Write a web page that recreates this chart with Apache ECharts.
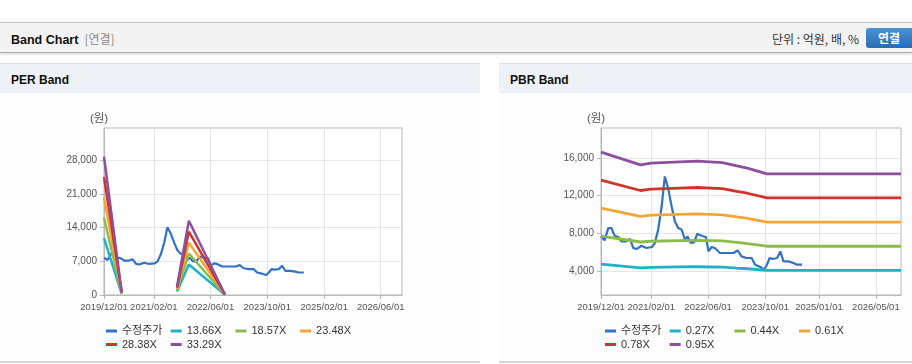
<!DOCTYPE html>
<html><head><meta charset="utf-8">
<script src="https://cdn.jsdelivr.net/npm/echarts@6/dist/echarts.min.js"></script>
<style>
html,body{margin:0;padding:0;width:912px;height:364px;overflow:hidden;background:#fff;font-family:"Liberation Sans","Noto Sans CJK KR",sans-serif;}
#hdr{position:absolute;left:0;top:22px;width:912px;height:29px;background:#f3f3f3;border-top:1px solid #c4c4c4;border-bottom:1px solid #b0b0b0;box-shadow:0 1px 3px rgba(0,0,0,0.18);}
#hdr .t{position:absolute;left:11px;top:0;line-height:31px;font-weight:bold;font-size:12.5px;color:#111;}
#hdr .s{color:#8a8a8a;font-weight:normal;margin-left:6px;font-size:12px;font-family:"Noto Sans CJK KR",sans-serif;}
#hdr .u{position:absolute;right:53px;top:0;line-height:31px;font-size:12px;color:#333;font-family:"Noto Sans CJK KR",sans-serif;}
#hdr .btn{position:absolute;left:866px;top:5px;width:48px;height:20px;border-radius:3px;background:linear-gradient(#4b91d2,#2a6cb2);color:#fff;font-weight:bold;font-size:12px;line-height:20px;text-align:center;font-family:"Noto Sans CJK KR",sans-serif;padding-right:2px;box-sizing:border-box;}
.ph{position:absolute;top:63px;height:29px;background:#eef1f6;border-top:1px solid #dde0e5;}
.ph span{position:absolute;left:11px;top:0;line-height:33px;font-weight:bold;font-size:12px;color:#111;}
.pb{position:absolute;top:93px;height:268px;background:#fdfdfd;border-bottom:2px solid #d6d6d6;}
#chart{position:absolute;left:0;top:0;width:912px;height:364px;}
</style></head>
<body>
<div id="hdr"><div class="t">Band Chart<span class="s">[연결]</span></div><div class="u">단위 : 억원, 배, %</div><div class="btn">연결</div></div>
<div class="ph" style="left:0;width:480px"><span>PER Band</span></div>
<div class="pb" style="left:0;width:480px"></div>
<div class="ph" style="left:499px;width:413px"><span>PBR Band</span></div>
<div class="pb" style="left:499px;width:413px"></div>
<div id="chart"></div>
<script>
// ---- data ----
const seriesNames = ['수정주가'];
const perBandNames = ['13.66X', '18.57X', '23.48X', '28.38X', '33.29X'];
const pbrBandNames = ['0.27X', '0.44X', '0.61X', '0.78X', '0.95X'];

const priceDates = ['2019/12/01','2020/01/01','2020/02/01','2020/02/28','2020/03/25','2020/04/25','2020/05/22','2020/07/04','2020/08/04','2020/09/01','2020/09/28','2020/11/10','2020/12/22','2021/02/07','2021/03/04','2021/04/01','2021/05/01','2021/05/28','2021/06/25','2021/07/25','2021/08/22','2021/09/19','2021/10/19','2021/11/16','2021/12/07','2022/01/04','2022/02/01','2022/03/01','2022/04/07','2022/05/13','2022/06/04','2022/07/01','2022/07/28','2022/09/10','2022/11/07','2023/01/04','2023/02/07','2023/03/13','2023/04/25','2023/06/07','2023/07/07','2023/08/19','2023/09/22','2023/10/16','2023/11/07','2023/12/04','2024/01/10','2024/02/07','2024/03/04','2024/04/16','2024/05/28','2024/06/28','2024/08/10'];
const priceValues = [7700,7250,8560,8560,7750,7610,7140,7140,7400,6440,6330,6680,6440,6550,6970,8380,10850,14040,12800,10850,9260,8560,8380,7320,7670,6970,7040,7960,7750,7600,6080,6550,6440,5910,5910,5910,6190,5550,5380,5380,4670,4420,4140,4670,5380,5270,5380,6080,5020,5020,4850,4670,4670];

const perBandDates = ['2019/12/01','2020/05/01','2021/01/01','2021/08/19','2021/11/28','2022/10/04'];
const per1366 = [11780, 250, null, 740, 6320, 40];
const per1857 = [16010, 340, null, 1000, 8600, 60];
const per2348 = [20240, 420, null, 1270, 10870, 70];
const per2838 = [24470, 510, null, 1530, 13140, 90];
const per3329 = [28700, 600, null, 1800, 15410, 100];

const pbrBandDates = ['2019/12/01','2020/11/01','2021/02/01','2021/10/01','2022/03/01','2022/10/01','2023/02/01','2023/05/01','2023/10/15','2026/12/01'];
const pbr027 = [4730, 4340, 4390, 4430, 4450, 4410, 4310, 4240, 4070, 4070];
const pbr044 = [7700, 7080, 7160, 7230, 7260, 7190, 7030, 6910, 6630, 6630];
const pbr061 = [10680, 9810, 9930, 10020, 10060, 9970, 9740, 9590, 9190, 9190];
const pbr078 = [13650, 12550, 12690, 12810, 12870, 12740, 12460, 12260, 11760, 11760];
const pbr095 = [16630, 15280, 15460, 15600, 15670, 15520, 15170, 14930, 14320, 14320];

const perXTicks = ['2019/12/01','2021/02/01','2022/06/01','2023/10/01','2025/02/01','2026/06/01'];
const pbrXTicks = ['2019/12/01','2021/02/01','2022/06/01','2023/10/01','2025/01/01','2026/05/01'];
const perYTicks = [0, 7000, 14000, 21000, 28000];
const pbrYTicks = [4000, 8000, 12000, 16000];
const xStart = '2019/12/01', xEnd = '2026/12/01';

// ---- styling ----
const colors = ['#3172c6', '#1fb2c6', '#8cbb4c', '#f3a634', '#d0332c', '#8e4f9c'];
const FONT = '"Liberation Sans","Noto Sans CJK KR",sans-serif';
const axisColor = '#b8b8b8';

function ts(s) { const p = s.split('/').map(Number); return new Date(p[0], p[1] - 1, p[2]).getTime(); }
function pairs(d, v) { return d.map((x, i) => [ts(x), v[i] == null ? '-' : v[i]]); }
function fmtDate(t) {
  const d = new Date(t);
  const p = n => (n < 10 ? '0' : '') + n;
  return d.getFullYear() + '/' + p(d.getMonth() + 1) + '/' + p(d.getDate());
}

const grids = [
  { left: 104, top: 128, width: 298, height: 167 },
  { left: 601, top: 128, width: 300, height: 167 }
];

function xAxisOf(idx, ticks) {
  const tv = ticks.map(ts);
  return {
    type: 'value', gridIndex: idx, min: ts(xStart), max: ts(xEnd),
    axisLine: { show: true, lineStyle: { color: axisColor } },
    axisTick: { show: true, length: 4, customValues: tv, lineStyle: { color: axisColor } },
    axisLabel: { customValues: tv, formatter: v => fmtDate(v), color: '#555', fontSize: 9.5, fontFamily: FONT, margin: 8 },
    splitLine: { show: true, lineStyle: { color: '#e6e6e6' } }
  };
}
function yAxisOf(idx, min, max, ticks) {
  return {
    type: 'value', gridIndex: idx, min: min, max: max,
    name: '(원)', nameLocation: 'end', nameGap: 9,
    nameTextStyle: { color: '#555', fontSize: 11.5, fontFamily: FONT, align: 'center', verticalAlign: 'middle', padding: [0, 10, 0, 0] },
    axisLine: { show: true, lineStyle: { color: axisColor } },
    axisTick: { show: true, length: 4, customValues: ticks, lineStyle: { color: axisColor } },
    axisLabel: { customValues: ticks, formatter: v => v.toLocaleString('en-US'), color: '#555', fontSize: 10, fontFamily: FONT, margin: 7 },
    splitLine: { show: true, lineStyle: { color: '#e6e6e6' } }
  };
}

function lineSeries(name, data, color, ax, width) {
  return {
    name: name, type: 'line', xAxisIndex: ax, yAxisIndex: ax, data: data,
    showSymbol: false, symbol: 'none', connectNulls: false,
    itemStyle: { color: color }, lineStyle: { color: color, width: width },
    emphasis: { disabled: true }
  };
}

const perSeriesData = [per1366, per1857, per2348, per2838, per3329];
const pbrSeriesData = [pbr027, pbr044, pbr061, pbr078, pbr095];

const series = [];
series.push(lineSeries(seriesNames[0], pairs(priceDates, priceValues), colors[0], 0, 2.2));
perSeriesData.forEach((v, i) => series.push(lineSeries(perBandNames[i], pairs(perBandDates, v), colors[i + 1], 0, 2.5)));
series.push(lineSeries(seriesNames[0], pairs(priceDates, priceValues), colors[0], 1, 2.2));
pbrSeriesData.forEach((v, i) => series.push(lineSeries(pbrBandNames[i], pairs(pbrBandDates, v), colors[i + 1], 1, 2.8)));

function legendsFor(names, x0) {
  const colW = 64.7, rows = [325.5, 339];
  return names.map((n, k) => ({
    data: [n], left: x0 + (k % 4) * colW, top: rows[Math.floor(k / 4)],
    padding: 0, icon: 'rect', itemWidth: 11, itemHeight: 3,
    textStyle: { color: '#333', fontSize: 11, fontFamily: FONT },
    selectedMode: false
  }));
}
const legends = legendsFor(seriesNames.concat(perBandNames), 106)
  .concat(legendsFor(seriesNames.concat(pbrBandNames), 605));

const chart = echarts.init(document.getElementById('chart'), null, { renderer: 'canvas' });
chart.setOption({
  animation: false,
  backgroundColor: 'transparent',
  grid: grids.map(g => Object.assign({ show: true, borderColor: axisColor, borderWidth: 1, backgroundColor: '#fff' }, g)),
  xAxis: [xAxisOf(0, perXTicks), xAxisOf(1, pbrXTicks)],
  yAxis: [yAxisOf(0, 0, 34640, perYTicks), yAxisOf(1, 1450, 19190, pbrYTicks)],
  legend: legends,
  series: series
});
</script>
</body></html>
